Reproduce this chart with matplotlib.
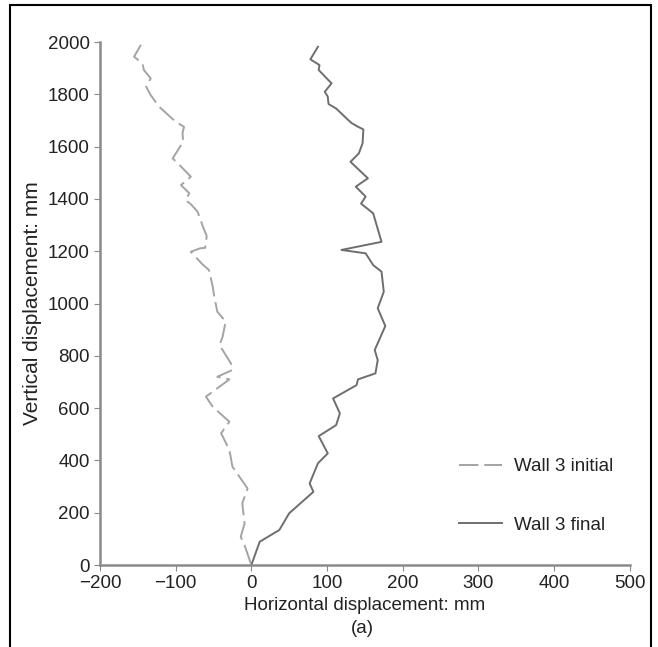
import matplotlib.pyplot as plt
from matplotlib.patches import Rectangle

plt.rcParams['font.family'] = ['Liberation Sans', 'DejaVu Sans']

# Wall 3 initial (dashed)
init_x = [-146, -155, -144, -142, -133, -139, -133, -122, -100, -89, -91, -90,
          -104, -95, -80, -93, -82, -87, -80, -71, -64, -59, -61, -68, -80,
          -65, -56, -51, -49, -45, -34, -38, -42, -27, -25, -45, -29, -60,
          -51, -29, -40, -29, -25, -5, -12, -9, -14, -9, 0]
init_y = [1989, 1944, 1918, 1893, 1861, 1829, 1797, 1753, 1695, 1676, 1651, 1619,
          1555, 1530, 1485, 1453, 1422, 1396, 1380, 1351, 1294, 1258, 1213, 1211, 1198,
          1151, 1128, 1064, 1026, 969, 931, 873, 841, 771, 746, 720, 710, 644,
          605, 548, 504, 440, 376, 293, 236, 159, 108, 76, 0]

# Wall 3 final (solid)
final_x = [88, 78, 90, 89, 106, 97, 101, 102, 112, 132, 141, 148, 147, 142, 131,
           154, 138, 151, 145, 161, 172, 119, 151, 161, 172, 175, 167, 177, 163,
           167, 164, 141, 139, 108, 117, 112, 89, 101, 88, 77, 82, 50, 37, 11, 0]
final_y = [1982, 1934, 1912, 1893, 1842, 1810, 1791, 1763, 1746, 1691, 1676, 1666,
           1613, 1574, 1542, 1479, 1447, 1409, 1382, 1345, 1236, 1205, 1192, 1147,
           1122, 1045, 982, 914, 822, 784, 733, 710, 688, 637, 580, 535, 493, 427,
           389, 312, 280, 198, 134, 89, 0]

fig = plt.figure(figsize=(6.58, 6.47), dpi=100)
ax = fig.add_axes([0.152, 0.1267, 0.805, 0.8083])

ax.plot(init_x, init_y, color='#a4a4a4', lw=1.4, dashes=(10, 3),
        label='Wall 3 initial')
ax.plot(final_x, final_y, color='#6e6e6e', lw=1.4, label='Wall 3 final')

ax.set_xlim(-200, 500)
ax.set_ylim(0, 2000)
ax.set_xticks(range(-200, 501, 100))
ax.set_yticks(range(0, 2001, 200))
for s in ['top', 'right']:
    ax.spines[s].set_visible(False)
for s in ['left', 'bottom']:
    ax.spines[s].set_color('#8a8a8a')
    ax.spines[s].set_linewidth(1.8)
ax.tick_params(colors='#8a8a8a', labelcolor='#222222', labelsize=13.5, length=4)

ax.set_xlabel('Horizontal displacement: mm', fontsize=13.5, color='#222222', labelpad=3)
ax.set_ylabel('Vertical displacement: mm', fontsize=15, color='#222222', labelpad=4)
fig.text(0.55, 0.029, '(a)', ha='center', va='center', fontsize=13.5, color='#222222')

leg = ax.legend(loc='lower right', bbox_to_anchor=(1.0, 0.028), frameon=False,
                fontsize=13.5, labelspacing=2.2, handlelength=2.3, handletextpad=0.6)
for t in leg.get_texts():
    t.set_color('#222222')

fig.patches.append(Rectangle((0.0152, -0.01), 0.9738, 1.002, transform=fig.transFigure,
                             fill=False, edgecolor='black', lw=1.5))

fig.savefig('out.png', dpi=100)
